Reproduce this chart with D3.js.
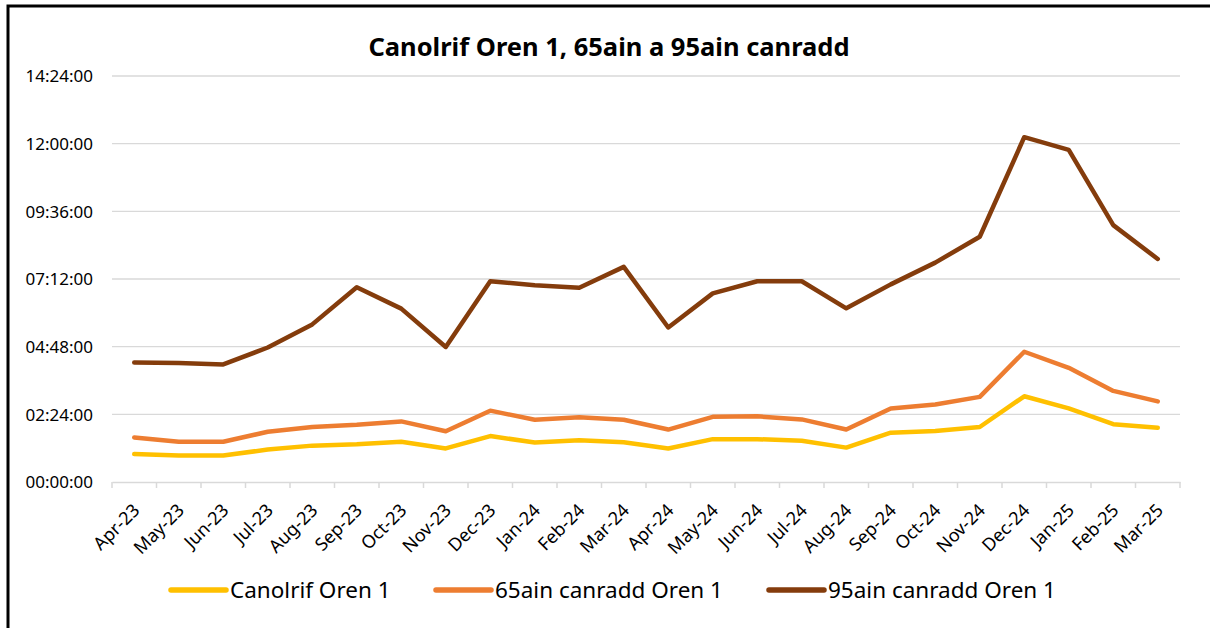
<!DOCTYPE html>
<html>
<head>
<meta charset="utf-8">
<script src="https://cdn.jsdelivr.net/npm/d3@7"></script>
<style>
  html, body { margin: 0; padding: 0; background: #fff; }
  svg { display: block; }
  text { font-family: "Noto Sans", "Open Sans", sans-serif; fill: #000; }
</style>
</head>
<body>
<svg id="chart" width="1210" height="628"></svg>
<script>
const categories = ["Apr-23","May-23","Jun-23","Jul-23","Aug-23","Sep-23","Oct-23","Nov-23","Dec-23","Jan-24","Feb-24","Mar-24","Apr-24","May-24","Jun-24","Jul-24","Aug-24","Sep-24","Oct-24","Nov-24","Dec-24","Jan-25","Feb-25","Mar-25"];
// values in hours
const median = [0.99,0.94,0.94,1.15,1.29,1.34,1.43,1.19,1.63,1.40,1.48,1.41,1.19,1.52,1.52,1.46,1.22,1.75,1.81,1.95,3.04,2.61,2.05,1.92];
const p65 = [1.58,1.43,1.43,1.78,1.95,2.03,2.15,1.80,2.53,2.21,2.30,2.21,1.86,2.31,2.33,2.22,1.86,2.61,2.75,3.02,4.62,4.05,3.23,2.86];
const p95 = [4.24,4.22,4.17,4.77,5.59,6.91,6.15,4.79,7.12,6.98,6.89,7.63,5.48,6.69,7.12,7.12,6.16,7.01,7.78,8.70,12.23,11.78,9.11,7.91];
const yTicks = [0, 2.4, 4.8, 7.2, 9.6, 12, 14.4];
const seriesNames = ["Canolrif Oren 1","65ain canradd Oren 1","95ain canradd Oren 1"];
const seriesColors = ["#FFC000","#ED7D31","#843C0C"];
const title = "Canolrif Oren 1, 65ain a 95ain canradd";

const svg = d3.select("#chart");
const plot = {left: 112, right: 1180, top: 76, bottom: 482};

// outer border
svg.append("rect").attr("x", 8).attr("y", 6).attr("width", 1300).attr("height", 700)
  .attr("fill", "none").attr("stroke", "#000").attr("stroke-width", 3);

const x = d3.scaleBand().domain(categories).range([plot.left, plot.right]);
const y = d3.scaleLinear().domain([0, 14.4]).range([plot.bottom, plot.top]);

function fmt(h) {
  const totalSec = Math.round(h * 3600);
  const hh = Math.floor(totalSec / 3600), mm = Math.floor((totalSec % 3600) / 60), ss = totalSec % 60;
  return [hh, mm, ss].map(v => String(v).padStart(2, "0")).join(":");
}

// gridlines
svg.append("g").selectAll("line").data(yTicks.filter(d => d > 0)).join("line")
  .attr("x1", plot.left).attr("x2", plot.right)
  .attr("y1", d => y(d)).attr("y2", d => y(d))
  .attr("stroke", "#d9d9d9").attr("stroke-width", 1.3);

// y axis labels
const yAxis = d3.axisLeft(y).tickValues(yTicks).tickFormat(fmt).tickSize(0).tickPadding(0);
const gy = svg.append("g").attr("transform", `translate(${plot.left - 19},0)`).call(yAxis);
gy.select(".domain").remove();
gy.selectAll("text").attr("font-size", 17).attr("fill", "#000")
  .style("font-family", '"Noto Sans", "Open Sans", sans-serif').attr("dy", "0.35em");

// x axis
const xAxis = d3.axisBottom(x).tickSize(0).tickSizeOuter(0).tickFormat(d => d);
const gx = svg.append("g").attr("transform", `translate(0,${plot.bottom})`).call(xAxis);
gx.select(".domain").attr("stroke", "#d9d9d9").attr("stroke-width", 1.5);
gx.selectAll(".tick line").remove();
const bounds = categories.map(c => x(c)).concat([plot.right]);
gx.append("g").selectAll("line").data(bounds).join("line")
  .attr("x1", d => d).attr("x2", d => d).attr("y1", 0).attr("y2", 6)
  .attr("stroke", "#d9d9d9").attr("stroke-width", 1.5);
gx.selectAll(".tick text")
  .attr("font-size", 18).attr("fill", "#000")
  .style("font-family", '"Noto Sans", "Open Sans", sans-serif')
  .attr("text-anchor", "end")
  .attr("x", 0).attr("y", 0).attr("dx", 0).attr("dy", "0.35em")
  .attr("transform", "translate(2,25) rotate(-45)");

// lines
const line = d3.line().x((d, i) => x(categories[i]) + x.bandwidth() / 2).y(d => y(d));
[median, p65, p95].forEach((vals, k) => {
  svg.append("path").datum(vals)
    .attr("fill", "none").attr("stroke", seriesColors[k]).attr("stroke-width", 4.5)
    .attr("stroke-linejoin", "round").attr("stroke-linecap", "round")
    .attr("d", line);
});

// title
svg.append("text").attr("x", 609).attr("y", 56).attr("text-anchor", "middle")
  .attr("font-size", 25.5).attr("font-weight", "bold").text(title);

// legend
const legendX = [171, 436, 769];
const lg = svg.append("g");
seriesNames.forEach((n, k) => {
  lg.append("line").attr("x1", legendX[k]).attr("x2", legendX[k] + 55)
    .attr("y1", 590).attr("y2", 590)
    .attr("stroke", seriesColors[k]).attr("stroke-width", 5.5).attr("stroke-linecap", "round");
  lg.append("text").attr("x", legendX[k] + 59).attr("y", 598).attr("font-size", 22.5).text(n);
});
</script>
</body>
</html>
